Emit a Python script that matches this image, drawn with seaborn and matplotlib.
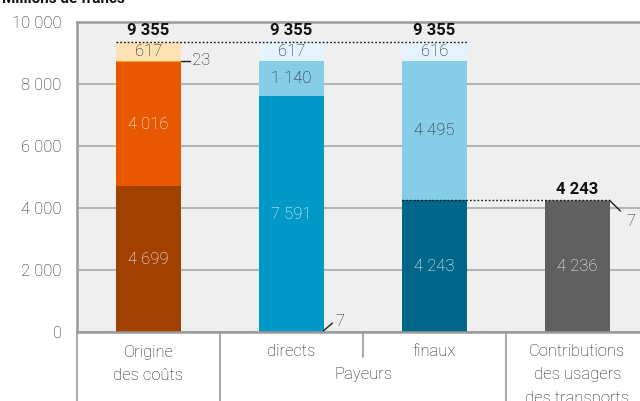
import matplotlib.pyplot as plt
import seaborn as sns

# categories and stacked segment values (bottom to top)
categories = ["Origine\ndes coûts", "directs", "finaux", "Contributions\ndes usagers\ndes transports"]
origine_vals = [4699, 4016, 23, 617]
directs_vals = [7, 7591, 1140, 617]
finaux_vals = [4243, 4495, 616]
usagers_vals = [4236, 7]
totals = [9355, 9355, 9355, 4243]
yticks = [0, 2000, 4000, 6000, 8000, 10000]

origine_colors = ["#a14000", "#e85800", "#f5a800", "#fde2b5"]
directs_colors = ["#005a80", "#0099c7", "#86cde7", "#e4f3fd"]
finaux_colors = ["#00678a", "#86cde7", "#e4f3fd"]
usagers_colors = ["#606060", "#909090"]
DARK = "#1e1e1e"
# label colour per segment (None = label drawn outside)
origine_txt = ["white", "white", None, DARK]
directs_txt = [None, "white", DARK, DARK]
finaux_txt = ["white", DARK, DARK]
usagers_txt = ["white", None]

sns.set_style("white")
plt.rcParams["font.family"] = ["Roboto", "DejaVu Sans"]
LW = "light"

fig = plt.figure(figsize=(6.4, 4.01), dpi=100)
ax = fig.add_axes([77 / 640, 1 - 332 / 401, 572 / 640, 310 / 401])
ax.set_facecolor("#efefef")


def fmt(v):
    return f"{v:,}".replace(",", " ")


stacks = [
    (origine_vals, origine_colors, origine_txt),
    (directs_vals, directs_colors, directs_txt),
    (finaux_vals, finaux_colors, finaux_txt),
    (usagers_vals, usagers_colors, usagers_txt),
]

for i, (vals, cols, txts) in enumerate(stacks):
    cums = []
    s = 0
    for v in vals:
        s += v
        cums.append(s)
    # draw from the top down so lower segments overlay
    for c, col in reversed(list(zip(cums, cols))):
        sns.barplot(x=[categories[i]], y=[c], order=categories, color=col,
                    width=0.45, saturation=1, linewidth=0, ax=ax, zorder=2)
    for v, c, t in zip(vals, cums, txts):
        if t is not None:
            ax.text(i, c - v / 2, fmt(v), ha="center", va="center", color=t,
                    fontsize=12, fontweight=LW, zorder=4)
    ax.text(i, totals[i] + 360, fmt(totals[i]), ha="center", va="center",
            fontsize=12, fontweight="bold", color="#111111", zorder=4)

# dotted total lines
ax.plot([-0.225, 2.225], [9355, 9355], ls=(0, (1.2, 1.5)), color="#111111", lw=1, zorder=3)
ax.plot([1.775, 3.225], [4243, 4243], ls=(0, (1.2, 1.5)), color="#111111", lw=1, zorder=3)

# small outside labels
ax.plot([0.225, 0.29], [8742, 8742], color=DARK, lw=1, zorder=3)
ax.text(0.305, 8742, "23", ha="left", va="center", fontsize=12, fontweight=LW, color=DARK)
ax.plot([1.224, 1.287], [40, 290], color=DARK, lw=1, zorder=3, clip_on=False)
ax.text(1.31, 330, "7", ha="left", va="center", fontsize=12, fontweight=LW, color=DARK)
ax.plot([3.225, 3.30], [4243, 3903], color=DARK, lw=1, zorder=3, clip_on=False)
ax.text(3.34, 3550, "7", ha="left", va="center", fontsize=12, fontweight=LW, color=DARK)

ax.set_xlim(-0.5, 3.5)
ax.set_ylim(0, 10000)
ax.set_yticks(yticks)
ax.set_yticklabels([fmt(t) for t in yticks], fontsize=12, fontweight=LW, color=DARK)
ax.tick_params(axis="y", length=0, pad=11)
ax.set_xticks([])
ax.set_xlabel("")
ax.set_ylabel("")
ax.grid(axis="y", color="#b4b4b4", lw=1.5, zorder=1)
ax.set_axisbelow(True)
for side in ["top", "bottom", "left"]:
    ax.spines[side].set_color("#9a9a9a")
    ax.spines[side].set_linewidth(1.8)
ax.spines["right"].set_visible(False)

# category axis below the plot
tr = ax.get_xaxis_transform()
for x, y0 in [(-0.5, -0.23), (0.5, -0.23), (1.5, -0.08), (2.5, -0.23)]:
    ax.plot([x, x], [0, y0], transform=tr, color="#9a9a9a", lw=1.2, clip_on=False)


def yf(px):
    return (332 - px) / 310


for i, lab in enumerate(categories):
    for k, line in enumerate(lab.split("\n")):
        ax.text(i, yf(352 + 23 * k), line, transform=tr, ha="center", va="center",
                fontsize=12, fontweight=LW, color=DARK, clip_on=False)
ax.text(1.5, yf(375), "Payeurs", transform=tr, ha="center", va="center",
        fontsize=12, fontweight=LW, color=DARK, clip_on=False)

fig.text(0.003, 1 - 3 / 401, "Millions de francs", ha="left", va="baseline",
         fontsize=11, fontweight="bold", color="#111111")

fig.savefig("out.png", dpi=100)
